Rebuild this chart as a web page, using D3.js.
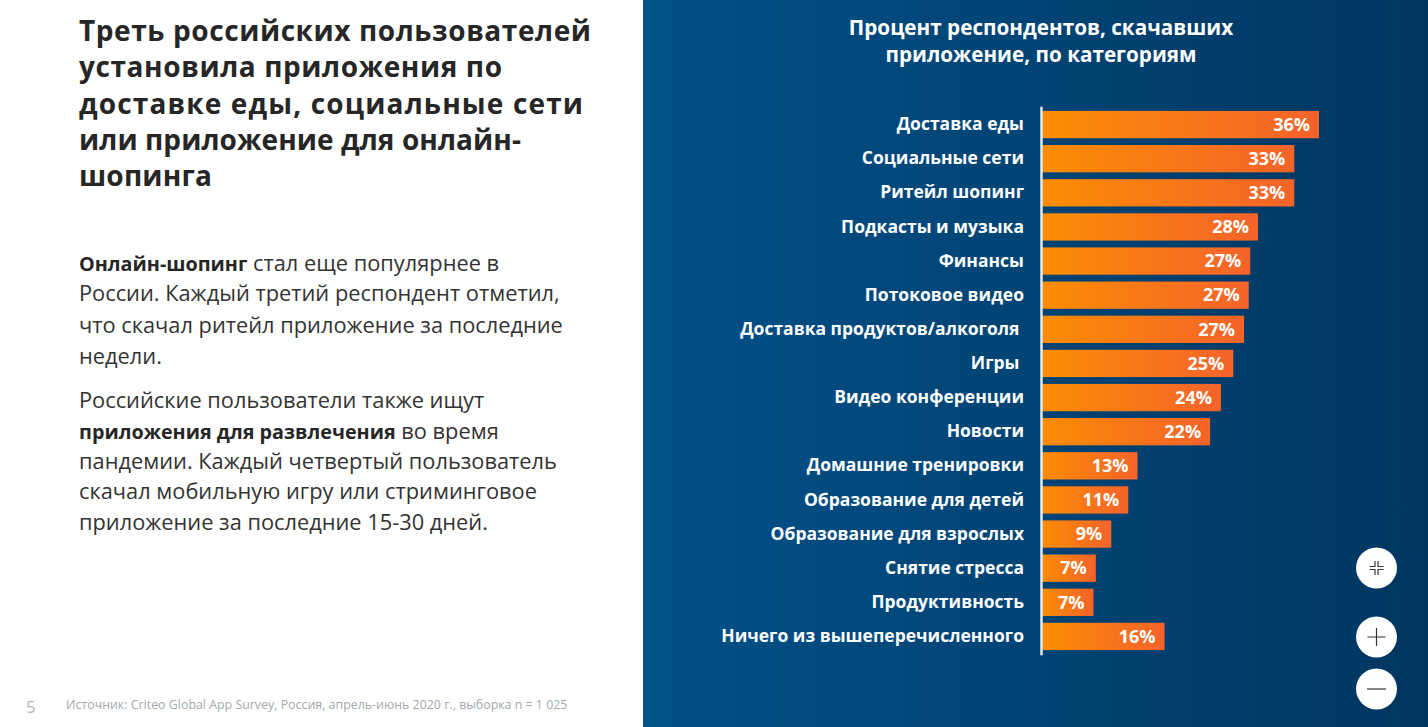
<!DOCTYPE html>
<html>
<head>
<meta charset="utf-8">
<script src="https://cdn.jsdelivr.net/npm/d3@7"></script>
<style>
html, body { margin: 0; padding: 0; background: #fff; }
svg { display: block; }
text { font-family: "Open Sans", "DejaVu Sans", sans-serif; white-space: pre; }
</style>
</head>
<body>
<svg id="chart" width="1428" height="727"></svg>
<script>
// data
var categories = ["Доставка еды", "Социальные сети", "Ритейл шопинг", "Подкасты и музыка", "Финансы", "Потоковое видео",
	"Доставка продуктов/алкоголя\u00a0", "Игры\u00a0", "Видео конференции", "Новости", "Домашние тренировки",
	"Образование для детей", "Образование для взрослых", "Снятие стресса", "Продуктивность", "Ничего из вышеперечисленного"];
var values = [36, 32.8, 32.8, 28.1, 27.1, 26.9, 26.3, 24.9, 23.3, 21.9, 12.5, 11.3, 9.1, 7.1, 6.8, 16];
var valueLabels = ["36%", "33%", "33%", "28%", "27%", "27%", "27%", "25%", "24%", "22%", "13%", "11%", "9%", "7%", "7%", "16%"];

var chartTitle = ["Процент респондентов, скачавших", "приложение, по категориям"];
var headline = ["Треть российских пользователей", "установила приложения по", "доставке еды, социальные сети", "или приложение для онлайн-", "шопинга"];
var headlineY = [41, 77, 114, 150, 186];
var headlineWidth = [512, 423, 504, 442, 133];
// body text, [text, bold] runs per line
var bodyLines = [
	[["Онлайн-шопинг", true], [" стал еще популярнее в", false]],
	[["России. Каждый третий респондент отметил,", false]],
	[["что скачал ритейл приложение за последние", false]],
	[["недели.", false]],
	[["Российские пользователи также ищут", false]],
	[["приложения для развлечения", true], [" во время", false]],
	[["пандемии. Каждый четвертый пользователь", false]],
	[["скачал мобильную игру или стриминговое", false]],
	[["приложение за последние 15-30 дней.", false]]
];
var bodyY = [271, 301, 333, 364, 408, 439, 469, 499, 530];

var svg = d3.select("#chart");
var defs = svg.append("defs");

function addGradient(id, from, to)
{
	var g = defs.append("linearGradient").attr("id", id);
	g.append("stop").attr("offset", "0%").attr("stop-color", from);
	g.append("stop").attr("offset", "100%").attr("stop-color", to);
}
addGradient("panelGrad", "#025189", "#003660");
addGradient("barGrad", "#fd8d04", "#f4632a");

svg.append("rect").attr("x", 643).attr("y", 0).attr("width", 785).attr("height", 727).attr("fill", "url(#panelGrad)");

// left column
svg.append("g").selectAll("text")
	.data(headline)
	.enter()
	.append("text")
	.attr("x", 79)
	.attr("y", function(d, i){ return headlineY[i]; })
	.attr("font-size", 28)
	.attr("font-weight", 700)
	.attr("textLength", function(d, i){ return headlineWidth[i]; })
	.attr("fill", "#262626")
	.text(function(d){ return d; });

var bodyText = svg.append("g").selectAll("text")
	.data(bodyLines)
	.enter()
	.append("text")
	.attr("x", 79)
	.attr("y", function(d, i){ return bodyY[i]; })
	.attr("font-size", 21.8)
	.attr("fill", "#333333");
bodyText.selectAll("tspan")
	.data(function(d){ return d; })
	.enter()
	.append("tspan")
	.attr("font-size", function(d){ return d[1] ? 19.8 : 21.8; })
	.attr("font-weight", function(d){ return d[1] ? 700 : 400; })
	.attr("fill", function(d){ return d[1] ? "#262626" : "#333333"; })
	.text(function(d){ return d[0]; });

svg.append("text").attr("x", 26).attr("y", 713).attr("font-size", 17).attr("fill", "#b3b7bc").text("5");
svg.append("text").attr("x", 66).attr("y", 709).attr("font-size", 12.4).attr("fill", "#a3a8ae")
	.text("Источник: Criteo Global App Survey, Россия, апрель-июнь 2020 г., выборка n = 1 025");

// chart title
svg.append("g").selectAll("text")
	.data(chartTitle)
	.enter()
	.append("text")
	.attr("x", 1041)
	.attr("y", function(d, i){ return 35 + i * 27; })
	.attr("text-anchor", "middle")
	.attr("font-size", 20.7)
	.attr("font-weight", 700)
	.attr("fill", "#fff")
	.text(function(d){ return d; });

// bars
var x = d3.scaleLinear().domain([0, 36]).range([1041, 1319]);
var y = d3.scaleBand().domain(categories).range([107.5, 653.5]).paddingInner(0.2).paddingOuter(0.1);

svg.append("g")
	.selectAll("rect")
	.data(categories)
	.enter()
	.append("rect")
	.attr("x", x(0))
	.attr("y", function(d){ return y(d); })
	.attr("width", function(d, i){ return x(values[i]) - x(0); })
	.attr("height", y.bandwidth())
	.attr("fill", "url(#barGrad)");

svg.append("g")
	.selectAll("text")
	.data(categories)
	.enter()
	.append("text")
	.attr("x", function(d, i){ return x(values[i]) - 9; })
	.attr("y", function(d){ return y(d) + y.bandwidth() / 2; })
	.attr("dy", "0.35em")
	.attr("text-anchor", "end")
	.attr("font-size", 18)
	.attr("font-weight", 700)
	.attr("fill", "#fff")
	.text(function(d, i){ return valueLabels[i]; });

var yAxis = svg.append("g")
	.attr("transform", "translate(" + x(0) + ",0)")
	.call(d3.axisLeft(y).tickSize(0).tickPadding(17));
yAxis.select(".domain").attr("stroke", "#e4e8ec").attr("stroke-width", 2.5).attr("stroke-linecap", "square");
yAxis.selectAll("text")
	.attr("font-family", null)
	.attr("font-size", 17.5)
	.attr("font-weight", 700)
	.attr("fill", "#fff");

// viewer buttons
var buttonY = [568, 637, 689];
var buttons = svg.append("g").selectAll("g")
	.data(["fit", "plus", "minus"])
	.enter()
	.append("g")
	.attr("transform", function(d, i){ return "translate(1376.5," + buttonY[i] + ")"; });
buttons.append("circle").attr("r", 20.5).attr("fill", "#fff");
buttons.append("path")
	.attr("fill", "none")
	.attr("stroke", "#333")
	.attr("stroke-width", 1.2)
	.attr("d", function(d){
		if(d == "plus") return "M-9,0H9M0,-9V9";
		if(d == "minus") return "M-9.5,0H9.5";
		return "M-7,-1.5H-1.5V-7M1.5,-7V-1.5H7M7,1.5H1.5V7M-1.5,7V1.5H-7";
	});
</script>
</body>
</html>
